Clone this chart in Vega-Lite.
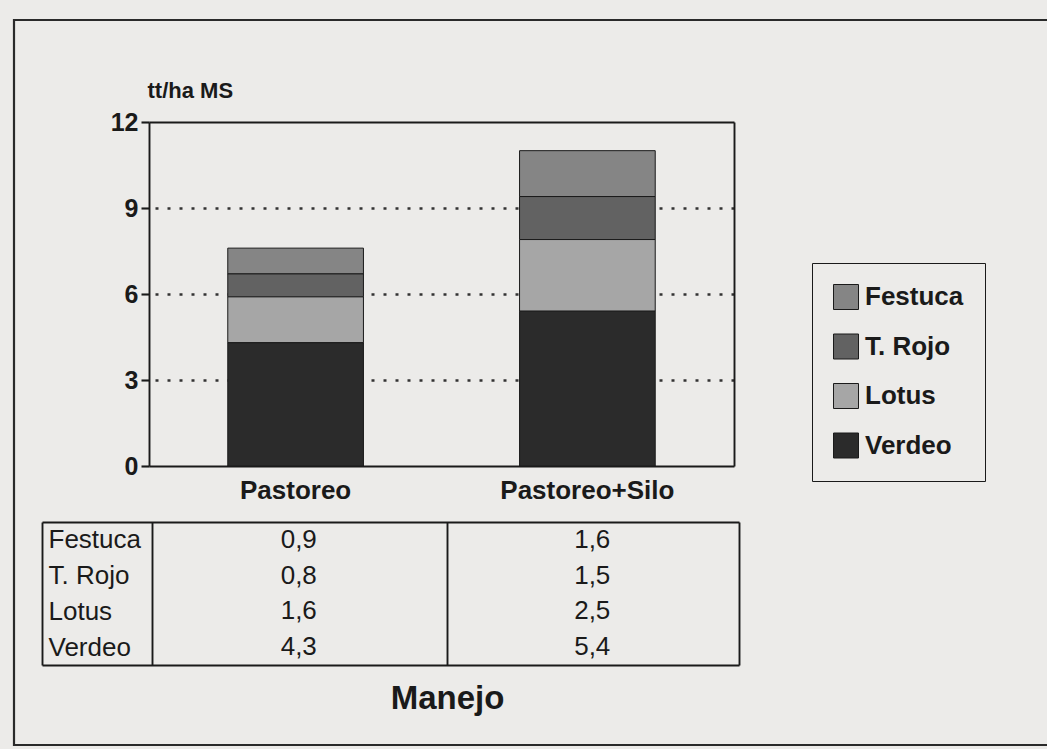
{
  "$schema": "https://vega.github.io/schema/vega-lite/v6.json",
  "width": 1047,
  "height": 749,
  "autosize": {"type": "fit", "contains": "padding"},
  "padding": {"left": 14, "top": 20, "right": -4, "bottom": 4},
  "background": "#ecebe9",
  "data": {
    "values": [
      {"manejo": "Pastoreo", "especie": "Festuca", "orden": 4, "valor": 0.9},
      {"manejo": "Pastoreo", "especie": "T. Rojo", "orden": 3, "valor": 0.8},
      {"manejo": "Pastoreo", "especie": "Lotus", "orden": 2, "valor": 1.6},
      {"manejo": "Pastoreo", "especie": "Verdeo", "orden": 1, "valor": 4.3},
      {"manejo": "Pastoreo+Silo", "especie": "Festuca", "orden": 4, "valor": 1.6},
      {"manejo": "Pastoreo+Silo", "especie": "T. Rojo", "orden": 3, "valor": 1.5},
      {"manejo": "Pastoreo+Silo", "especie": "Lotus", "orden": 2, "valor": 2.5},
      {"manejo": "Pastoreo+Silo", "especie": "Verdeo", "orden": 1, "valor": 5.4}
    ]
  },
  "layer": [
    {
      "mark": {"type": "bar", "stroke": "#1a1a1a", "strokeWidth": 1},
      "encoding": {
        "x": {
          "field": "manejo", "type": "nominal",
          "scale": {"domain": ["Pastoreo", "Pastoreo+Silo"], "range": [135, 720], "paddingInner": 0.535, "paddingOuter": 0.27},
          "axis": {"orient": "bottom", "offset": -279, "title": null, "ticks": false, "domain": true, "labelAngle": 0, "labelFontSize": 26, "labelFontWeight": "bold", "labelPadding": 11, "labelBaseline": "top", "labelLimit": 400}
        },
        "y": {
          "field": "valor", "type": "quantitative", "stack": "zero",
          "scale": {"domain": [0, 12], "range": [446, 102], "nice": false},
          "axis": {"orient": "left", "offset": -135, "values": [0, 3, 6, 9, 12], "tickSize": 8, "tickWidth": 2.1, "labelFontSize": 25, "labelFontWeight": "bold", "labelPadding": 3, "format": "d", "title": "tt/ha MS", "titleAngle": 0, "titleAlign": "left", "titleX": -2, "titleY": 77, "titleBaseline": "alphabetic", "titleFontSize": 22, "titleFontWeight": "bold", "grid": false}
        },
        "order": {"field": "orden", "type": "quantitative", "sort": "ascending"},
        "color": {
          "field": "especie", "type": "nominal",
          "scale": {"domain": ["Festuca", "T. Rojo", "Lotus", "Verdeo"], "range": ["#858585", "#626262", "#a6a6a6", "#2b2b2b"]},
          "legend": {"orient": "none", "legendX": 798, "legendY": 243, "title": null, "symbolType": "square", "symbolSize": 625, "symbolStrokeColor": "#1a1a1a", "symbolStrokeWidth": 1, "symbolOpacity": 1, "labelFontSize": 26, "labelFontWeight": "bold", "labelOffset": 6, "rowPadding": 19.5, "padding": 21, "strokeColor": "#1a1a1a", "labelColor": "#1a1a1a"}
        }
      }
    },
    {
      "mark": {"type": "point", "opacity": 0},
      "encoding": {
        "x": {
          "field": "manejo", "type": "nominal",
          "scale": {"domain": ["Pastoreo", "Pastoreo+Silo"], "range": [135, 720], "paddingInner": 0.535, "paddingOuter": 0.27},
          "axis": {"orient": "top", "offset": -102, "title": null, "ticks": false, "labels": false, "domain": true}
        },
        "y": {
          "field": "valor", "type": "quantitative",
          "scale": {"domain": [0, 12], "range": [446, 102], "nice": false},
          "axis": {"orient": "left", "offset": -720, "values": [3, 6, 9], "tickSize": 585, "tickDash": [3, 9], "tickWidth": 2.5, "tickColor": "#333333", "labels": false, "title": null, "domain": true, "grid": false}
        }
      }
    },
    {
      "mark": {"type": "text", "fontSize": 26, "color": "#1a1a1a"},
      "encoding": {
        "x": {
          "field": "manejo", "type": "nominal",
          "scale": {"domain": ["Pastoreo", "Pastoreo+Silo"], "range": [138, 725], "paddingInner": 0, "paddingOuter": 0},
          "axis": {"orient": "bottom", "offset": -80, "domain": false, "ticks": false, "labels": false, "title": "Manejo", "titleFontSize": 33, "titleFontWeight": "bold", "titleX": 433, "titleY": 43, "titleBaseline": "alphabetic", "titleAlign": "center"}
        },
        "y": {
          "field": "especie", "type": "nominal",
          "scale": {"domain": ["Festuca", "T. Rojo", "Lotus", "Verdeo"], "range": [502, 645], "paddingInner": 0, "paddingOuter": 0},
          "axis": {"orient": "left", "offset": -28, "title": null, "ticks": false, "tickSize": 0, "domain": true, "labelAlign": "left", "labelPadding": -6, "labelFontSize": 26, "labelFontWeight": "normal", "labelBaseline": "middle"}
        },
        "text": {"field": "valor", "type": "quantitative", "format": ".1f"}
      }
    },
    {
      "mark": {"type": "text", "opacity": 0, "text": ""},
      "encoding": {
        "y": {
          "field": "especie", "type": "nominal",
          "scale": {"domain": ["Festuca", "T. Rojo", "Lotus", "Verdeo"], "range": [502, 645], "paddingInner": 0, "paddingOuter": 0},
          "axis": {"orient": "left", "offset": -138, "title": null, "ticks": false, "labels": false, "domain": true}
        }
      }
    },
    {
      "mark": {"type": "text", "opacity": 0, "text": ""},
      "encoding": {
        "y": {
          "field": "especie", "type": "nominal",
          "scale": {"domain": ["Festuca", "T. Rojo", "Lotus", "Verdeo"], "range": [502, 645], "paddingInner": 0, "paddingOuter": 0},
          "axis": {"orient": "left", "offset": -433, "title": null, "ticks": false, "labels": false, "domain": true}
        }
      }
    },
    {
      "mark": {"type": "text", "opacity": 0, "text": ""},
      "encoding": {
        "y": {
          "field": "especie", "type": "nominal",
          "scale": {"domain": ["Festuca", "T. Rojo", "Lotus", "Verdeo"], "range": [502, 645], "paddingInner": 0, "paddingOuter": 0},
          "axis": {"orient": "left", "offset": -725, "title": null, "ticks": true, "values": ["Festuca"], "tickOffset": -17.875, "tickSize": 697, "tickWidth": 2.01, "labels": false, "domain": true}
        }
      }
    },
    {
      "mark": {"type": "text", "opacity": 0, "text": ""},
      "encoding": {
        "y": {
          "field": "especie", "type": "nominal",
          "scale": {"domain": ["Festuca", "T. Rojo", "Lotus", "Verdeo"], "range": [502, 645], "paddingInner": 0, "paddingOuter": 0},
          "axis": {"orient": "left", "offset": -725, "title": null, "ticks": true, "values": ["Verdeo"], "tickOffset": 17.875, "tickSize": 697, "tickWidth": 2.02, "labels": false, "domain": false}
        }
      }
    }
  ],
  "resolve": {
    "scale": {"x": "independent", "y": "independent", "color": "independent"},
    "axis": {"x": "independent", "y": "independent"}
  },
  "config": {
    "font": "Liberation Sans",
    "view": {"stroke": "#2a2a2a", "strokeWidth": 2.2},
    "axis": {"domainColor": "#1a1a1a", "domainWidth": 1.9, "tickColor": "#1a1a1a", "labelColor": "#1a1a1a", "titleColor": "#1a1a1a", "labelFont": "Liberation Sans", "titleFont": "Liberation Sans", "grid": false},
    "legend": {"labelFont": "Liberation Sans"},
    "text": {"font": "Liberation Sans"},
    "locale": {"number": {"decimal": ",", "thousands": ".", "grouping": [3], "currency": ["", " €"]}}
  }
}
